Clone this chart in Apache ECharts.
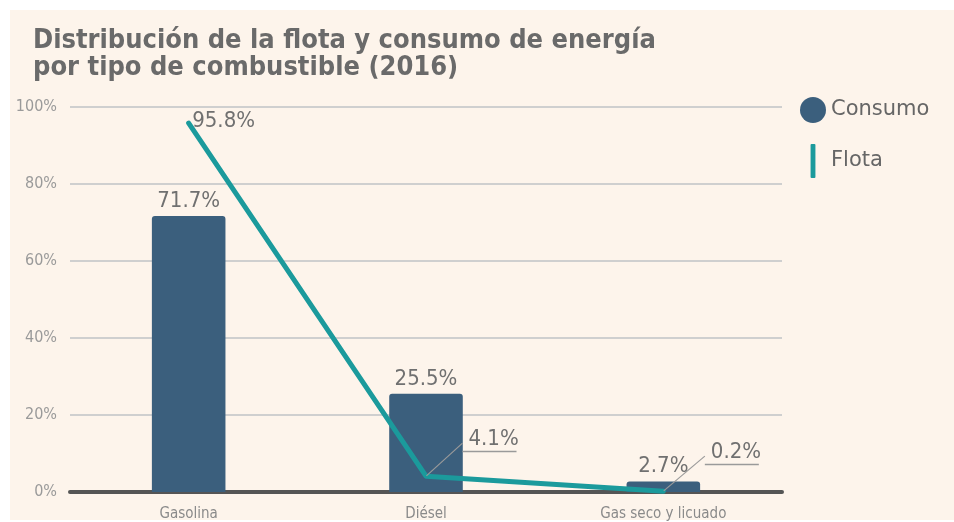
<!DOCTYPE html>
<html>
<head>
<meta charset="utf-8">
<script src="https://cdn.jsdelivr.net/npm/echarts@6/dist/echarts.min.js"></script>
<style>
  html, body { margin: 0; padding: 0; background: #ffffff; }
  #bg { position: absolute; left: 10px; top: 10px; width: 944px; height: 510px; background: #fdf4eb; }
  #chart { position: absolute; left: 0; top: 0; width: 954px; height: 522px; }
</style>
</head>
<body>
<div id="bg"></div>
<div id="chart"></div>
<script>
const titleText = 'Distribución de la flota y consumo de energía\npor tipo de combustible (2016)';
const categories = ['Gasolina', 'Diésel', 'Gas seco y licuado'];
const consumo = [71.7, 25.5, 2.7];
const flota = [95.8, 4.1, 0.2];
const yTicks = [0, 20, 40, 60, 80, 100];

const chart = echarts.init(document.getElementById('chart'), null, { renderer: 'canvas' });

const valueFont = 'DejaVu Sans Condensed';
const leaderLabel = (dx, dy) => ({
  show: true,
  position: [dx, dy],
  align: 'left',
  verticalAlign: 'top',
  padding: [0, 0, 22, 0],
  formatter: p => '{t|' + p.value + '%}\n{u|}',
  rich: {
    t: { fontFamily: valueFont, fontSize: 22, color: '#707070', lineHeight: 22, padding: [0, 0, 0, 6] },
    u: { width: 54, height: 1.5, lineHeight: 1.5, backgroundColor: '#9a9a9a' }
  }
});

const flotaData = flota.map((v, i) => {
  if (i === 0) {
    return {
      value: v,
      label: {
        show: true, position: [4, -12], align: 'left', verticalAlign: 'top',
        formatter: '{c}%', fontFamily: valueFont, fontSize: 22, color: '#707070'
      },
      labelLine: { show: false }
    };
  }
  const offs = i === 1 ? [37, -47] : [42, -49];
  return {
    value: v,
    label: leaderLabel(offs[0], offs[1]),
    labelLine: { show: true, lineStyle: { color: '#9a9a9a', width: 1.2 } }
  };
});

chart.setOption({
  animation: false,
  title: {
    text: titleText,
    left: 28, top: 22,
    textStyle: { fontFamily: 'DejaVu Sans Condensed', fontWeight: 'bold', fontSize: 27, color: '#6a6a6a', lineHeight: 27 }
  },
  legend: {
    orient: 'vertical',
    left: 795, top: 92,
    itemWidth: 26, itemHeight: 34, itemGap: 21,
    textStyle: { fontFamily: 'DejaVu Sans', fontSize: 21, color: '#666666' },
    data: [
      { name: 'Consumo', icon: 'circle' },
      { name: 'Flota', icon: 'path://M1,0 L4,0 Q5,0 5,1 L5,34 Q5,35 4,35 L1,35 Q0,35 0,34 L0,1 Q0,0 1,0 Z' }
    ]
  },
  grid: { left: 70, right: 172, top: 107, bottom: 29 },
  xAxis: {
    type: 'category',
    data: categories,
    axisLine: { lineStyle: { color: '#555555', width: 4, cap: 'round' } },
    axisTick: { show: false },
    axisLabel: { margin: 15, fontFamily: 'DejaVu Sans Condensed', fontSize: 15, color: '#8a8a8a' }
  },
  yAxis: {
    type: 'value',
    min: yTicks[0], max: yTicks[yTicks.length - 1], interval: 20,
    axisLine: { show: false },
    axisTick: { show: false },
    splitLine: { lineStyle: { color: '#cfcfcf', width: 2 } },
    axisLabel: { margin: 13, fontFamily: 'DejaVu Sans Condensed', fontSize: 16, color: '#9a9a9a', formatter: '{value}%' }
  },
  series: [
    {
      name: 'Consumo',
      type: 'bar',
      data: consumo,
      barWidth: '31%',
      itemStyle: { color: '#3b5f7d', borderRadius: [3, 3, 0, 0] },
      label: { show: true, position: 'top', distance: 4, formatter: '{c}%', fontFamily: valueFont, fontSize: 22, color: '#707070' },
      z: 2
    },
    {
      name: 'Flota',
      type: 'line',
      data: flotaData,
      symbol: 'circle', symbolSize: 1, showSymbol: true,
      lineStyle: { color: '#1b9a9c', width: 5, cap: 'round', join: 'round' },
      itemStyle: { color: '#1b9a9c' },
      z: 3
    }
  ]
});
</script>
</body>
</html>
